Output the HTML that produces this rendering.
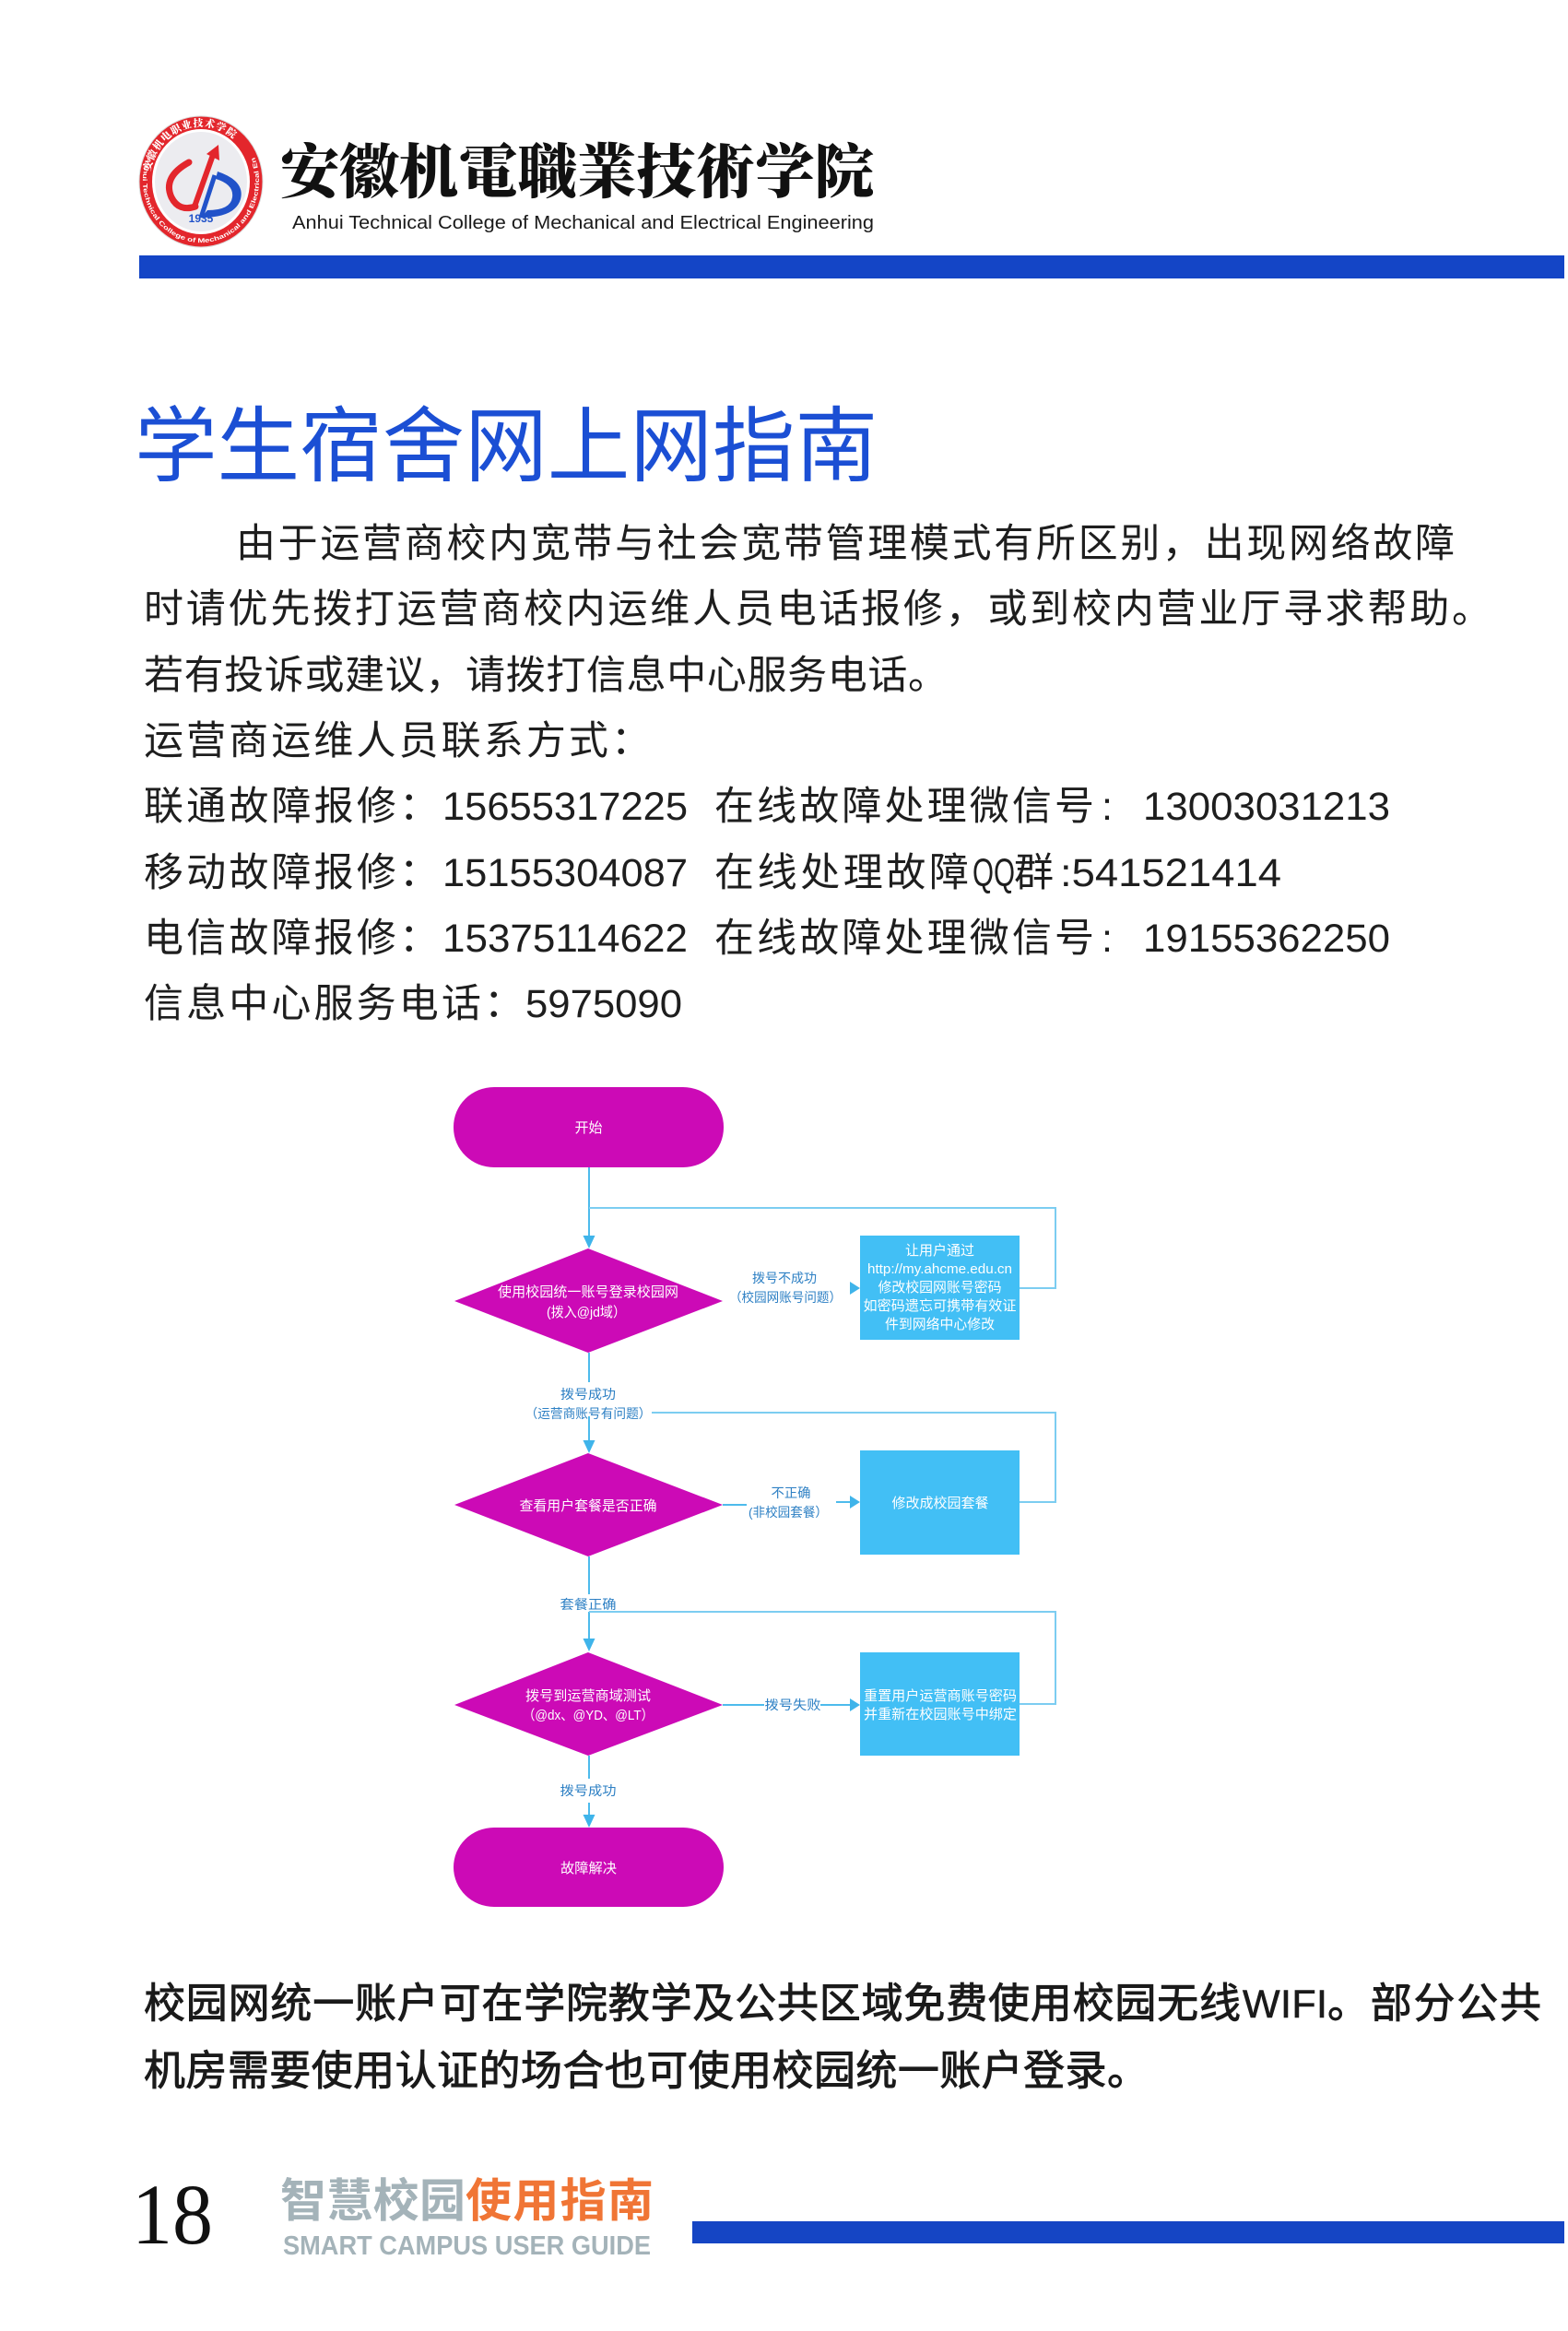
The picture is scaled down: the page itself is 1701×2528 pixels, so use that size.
<!DOCTYPE html>
<html><head><meta charset="utf-8"><style>
html,body{margin:0;padding:0;background:#fff;}
svg{display:block;}
.p{font-family:"Liberation Sans","Noto Sans CJK SC",sans-serif;font-size:43px;fill:#1e1e1e;}
.d{font-family:"Liberation Sans Narrow","Liberation Sans",sans-serif;font-size:43px;fill:#1e1e1e;}
.fw{font-family:"Liberation Sans","Noto Sans CJK SC",sans-serif;font-size:15px;fill:#fff;text-anchor:middle;}
.lb{font-family:"Liberation Sans","Noto Sans CJK SC",sans-serif;font-size:14px;fill:#2e80c4;text-anchor:middle;}
.ln{stroke:#4dbbec;stroke-width:2;fill:none;}
.lp{stroke:#7ccdf1;stroke-width:2;fill:none;}
.bp{font-family:"Liberation Sans","Noto Sans CJK SC",sans-serif;font-size:45px;fill:#1a1a1a;stroke:#1a1a1a;stroke-width:0.9;}
</style></head><body>
<svg width="1701" height="2528" viewBox="0 0 1701 2528" xmlns="http://www.w3.org/2000/svg">
<rect x="0" y="0" width="1701" height="2528" fill="#fff"/>

<!-- ===== Logo ===== -->
<defs>
<path id="engArc" d="M 160 170 A 63 67 0 1 0 276 170"/>
<path id="cnArc" d="M 163 186 A 56 60 0 0 1 273 186"/>
</defs>
<ellipse cx="218" cy="197" rx="67" ry="71" fill="#e3262c" stroke="#d9d9d9" stroke-width="1"/>
<ellipse cx="218" cy="197" rx="53" ry="57" fill="#ffffff"/>
<ellipse cx="218" cy="197" rx="50" ry="54" fill="#ececf0"/>
<text font-family="'Noto Serif CJK SC',serif" font-weight="900" font-size="11" fill="#fff"><textPath href="#cnArc" textLength="118" lengthAdjust="spacing">安徽机电职业技术学院</textPath></text>
<text font-family="'Liberation Sans',sans-serif" font-weight="bold" font-size="6.8" fill="#fff"><textPath href="#engArc" textLength="300" lengthAdjust="spacingAndGlyphs">Anhui Technical College of Mechanical and Electrical Engineering</textPath></text>
<path d="M205 176 Q176 192 186 214 Q194 230 212 224" stroke="#e3262c" stroke-width="7" fill="none" stroke-linecap="round"/>
<path d="M211 224 L231 168" stroke="#e3262c" stroke-width="6" fill="none"/>
<polygon points="237,157 238,174 224,167" fill="#e3262c"/>
<path d="M236 186 Q266 196 261 216 Q255 236 218 236 L225 228 Q250 228 252 214 Q254 200 234 194 Z" fill="#2152c9"/>
<path d="M218 236 L233 190" stroke="#2152c9" stroke-width="5" fill="none"/>
<text x="218" y="241" font-family="'Liberation Sans',sans-serif" font-weight="bold" font-size="12" fill="#2152c9" text-anchor="middle">1935</text>

<!-- ===== Header text ===== -->
<text x="304" y="209" font-family="'Noto Serif CJK SC','Noto Sans CJK SC',serif" font-weight="900" font-size="64" fill="#111" textLength="644" lengthAdjust="spacingAndGlyphs">安徽机電職業技術学院</text>
<text x="317" y="248" font-family="'Liberation Sans',sans-serif" font-size="20" fill="#1a1a1a" textLength="631" lengthAdjust="spacingAndGlyphs">Anhui Technical College of Mechanical and Electrical Engineering</text>
<rect x="151" y="277" width="1546" height="25" fill="#1445c6"/>

<!-- ===== Title ===== -->
<text x="146" y="515" font-family="'Liberation Sans','Noto Sans CJK SC',sans-serif" font-size="89" fill="#1b4fd4" textLength="806" lengthAdjust="spacingAndGlyphs">学生宿舍网上网指南</text>

<!-- ===== Paragraph ===== -->
<text class="p" x="256" y="604" textLength="1322" lengthAdjust="spacing">由于运营商校内宽带与社会宽带管理模式有所区别，出现网络故障</text>
<text class="p" x="156" y="675" textLength="1462" lengthAdjust="spacing">时请优先拨打运营商校内运维人员电话报修，或到校内营业厅寻求帮助。</text>
<text class="p" x="156" y="747" textLength="872" lengthAdjust="spacing">若有投诉或建议，请拨打信息中心服务电话。</text>
<text class="p" x="156" y="818" textLength="550" lengthAdjust="spacing">运营商运维人员联系方式：</text>

<text class="p" x="156" y="889" textLength="320" lengthAdjust="spacing">联通故障报修：</text>
<text class="d" x="480" y="889" textLength="266" lengthAdjust="spacingAndGlyphs">15655317225</text>
<text class="p" x="775" y="889" textLength="412" lengthAdjust="spacing">在线故障处理微信号</text>
<text class="d" x="1195" y="889">:</text>
<text class="d" x="1240" y="889" textLength="268" lengthAdjust="spacingAndGlyphs">13003031213</text>

<text class="p" x="156" y="961" textLength="320" lengthAdjust="spacing">移动故障报修：</text>
<text class="d" x="480" y="961" textLength="266" lengthAdjust="spacingAndGlyphs">15155304087</text>
<text class="p" x="775" y="961" textLength="276" lengthAdjust="spacing">在线处理故障</text>
<text class="d" x="1055" y="961" textLength="46" lengthAdjust="spacingAndGlyphs">QQ</text>
<text class="p" x="1100" y="961">群</text>
<text class="d" x="1150" y="961" textLength="240" lengthAdjust="spacingAndGlyphs">:541521414</text>

<text class="p" x="156" y="1032" textLength="320" lengthAdjust="spacing">电信故障报修：</text>
<text class="d" x="480" y="1032" textLength="266" lengthAdjust="spacingAndGlyphs">15375114622</text>
<text class="p" x="775" y="1032" textLength="412" lengthAdjust="spacing">在线故障处理微信号</text>
<text class="d" x="1195" y="1032">:</text>
<text class="d" x="1240" y="1032" textLength="268" lengthAdjust="spacingAndGlyphs">19155362250</text>

<text class="p" x="156" y="1103" textLength="412" lengthAdjust="spacing">信息中心服务电话：</text>
<text class="d" x="570" y="1103" textLength="170" lengthAdjust="spacingAndGlyphs">5975090</text>

<!-- ===== Flowchart ===== -->
<line class="ln" x1="639" y1="1266" x2="639" y2="1341"/>
<polygon points="632.5,1340 645.5,1340 639,1354" fill="#3fb4ea"/>
<polyline class="lp" points="1106,1397 1145,1397 1145,1310 639,1310"/>

<line class="ln" x1="639" y1="1467" x2="639" y2="1499"/>
<line class="ln" x1="639" y1="1536" x2="639" y2="1563"/>
<polygon points="632.5,1562 645.5,1562 639,1576" fill="#3fb4ea"/>
<polyline class="lp" points="1106,1629 1145,1629 1145,1532 707,1532"/>

<line class="ln" x1="784" y1="1632" x2="810" y2="1632"/>
<line class="ln" x1="907" y1="1629" x2="923" y2="1629"/>

<line class="ln" x1="639" y1="1688" x2="639" y2="1729"/>
<line class="ln" x1="639" y1="1748" x2="639" y2="1778"/>
<polygon points="632.5,1777 645.5,1777 639,1791" fill="#3fb4ea"/>
<polyline class="lp" points="1106,1848 1145,1848 1145,1748 639,1748"/>

<line class="ln" x1="784" y1="1849" x2="829" y2="1849"/>
<line class="ln" x1="890" y1="1849" x2="923" y2="1849"/>

<line class="ln" x1="639" y1="1904" x2="639" y2="1929"/>
<line class="ln" x1="639" y1="1955" x2="639" y2="1969"/>
<polygon points="632.5,1968 645.5,1968 639,1982" fill="#3fb4ea"/>

<polygon points="922,1390 922,1404 933,1397" fill="#3fb4ea"/>
<polygon points="922,1622 922,1636 933,1629" fill="#3fb4ea"/>
<polygon points="922,1842 922,1856 933,1849" fill="#3fb4ea"/>

<rect x="492" y="1179" width="293" height="87" rx="44" ry="43" fill="#cc0ab6"/>
<text class="fw" x="638.5" y="1228">开始</text>

<polygon points="638,1354 784,1411 638,1467 493,1411" fill="#cc0ab6"/>
<text class="fw" x="638" y="1406" textLength="196" lengthAdjust="spacingAndGlyphs">使用校园统一账号登录校园网</text>
<text class="fw" x="636" y="1428" textLength="86" lengthAdjust="spacingAndGlyphs">(拨入@jd域）</text>

<text class="lb" x="851" y="1391" textLength="70" lengthAdjust="spacingAndGlyphs">拨号不成功</text>
<text class="lb" x="852" y="1412" textLength="122" lengthAdjust="spacingAndGlyphs">（校园网账号问题）</text>

<rect x="933" y="1340" width="173" height="113" fill="#42bff5"/>
<text class="fw" x="1019.5" y="1361" textLength="75" lengthAdjust="spacingAndGlyphs">让用户通过</text>
<text class="fw" x="1019.5" y="1381" textLength="157" lengthAdjust="spacingAndGlyphs">http://my.ahcme.edu.cn</text>
<text class="fw" x="1019.5" y="1401" textLength="134" lengthAdjust="spacingAndGlyphs">修改校园网账号密码</text>
<text class="fw" x="1019.5" y="1421" textLength="166" lengthAdjust="spacingAndGlyphs">如密码遗忘可携带有效证</text>
<text class="fw" x="1019.5" y="1441" textLength="119" lengthAdjust="spacingAndGlyphs">件到网络中心修改</text>

<text class="lb" x="638" y="1517" textLength="60" lengthAdjust="spacingAndGlyphs">拨号成功</text>
<text class="lb" x="638" y="1538" textLength="137" lengthAdjust="spacingAndGlyphs">（运营商账号有问题）</text>

<polygon points="638,1576 784,1632 638,1688 493,1632" fill="#cc0ab6"/>
<text class="fw" x="638" y="1638" textLength="149" lengthAdjust="spacingAndGlyphs">查看用户套餐是否正确</text>

<text class="lb" x="858" y="1624" textLength="43" lengthAdjust="spacingAndGlyphs">不正确</text>
<text class="lb" x="855" y="1645" textLength="86" lengthAdjust="spacingAndGlyphs">(非校园套餐）</text>

<rect x="933" y="1573" width="173" height="113" fill="#42bff5"/>
<text class="fw" x="1020" y="1635" textLength="105" lengthAdjust="spacingAndGlyphs">修改成校园套餐</text>

<text class="lb" x="638" y="1745" textLength="61" lengthAdjust="spacingAndGlyphs">套餐正确</text>

<polygon points="638,1792 784,1849 638,1904 493,1849" fill="#cc0ab6"/>
<text class="fw" x="638" y="1844" textLength="136" lengthAdjust="spacingAndGlyphs">拨号到运营商域测试</text>
<text class="fw" x="638" y="1865" textLength="142" lengthAdjust="spacingAndGlyphs">（@dx、@YD、@LT）</text>

<text class="lb" x="860" y="1854" textLength="61" lengthAdjust="spacingAndGlyphs">拨号失败</text>

<rect x="933" y="1792" width="173" height="112" fill="#42bff5"/>
<text class="fw" x="1020" y="1844" textLength="166" lengthAdjust="spacingAndGlyphs">重置用户运营商账号密码</text>
<text class="fw" x="1020" y="1864" textLength="166" lengthAdjust="spacingAndGlyphs">并重新在校园账号中绑定</text>

<text class="lb" x="638" y="1947" textLength="61" lengthAdjust="spacingAndGlyphs">拨号成功</text>

<rect x="492" y="1982" width="293" height="86" rx="44" ry="43" fill="#cc0ab6"/>
<text class="fw" x="638.5" y="2031" textLength="61" lengthAdjust="spacingAndGlyphs">故障解决</text>

<!-- ===== Bottom paragraph ===== -->
<text class="bp" x="156" y="2188" textLength="1190" lengthAdjust="spacing">校园网统一账户可在学院教学及公共区域免费使用校园无线</text>
<text x="1348" y="2188" font-family="'Liberation Sans Narrow','Liberation Sans',sans-serif" font-size="43" fill="#1a1a1a" stroke="#1a1a1a" stroke-width="0.6" textLength="92" lengthAdjust="spacing">WIFI</text>
<text class="bp" x="1440" y="2188" textLength="232" lengthAdjust="spacing">。部分公共</text>
<text class="bp" x="156" y="2261" textLength="1090" lengthAdjust="spacing">机房需要使用认证的场合也可使用校园统一账户登录。</text>

<!-- ===== Footer ===== -->
<text x="143" y="2433" font-family="'Liberation Serif',serif" font-size="93" fill="#111" textLength="88" lengthAdjust="spacingAndGlyphs">18</text>
<text x="304" y="2404" font-family="'Liberation Sans','Noto Sans CJK SC',sans-serif" font-weight="bold" font-size="50" fill="#a4b3b9" textLength="201" lengthAdjust="spacing">智慧校园</text>
<text x="505" y="2404" font-family="'Liberation Sans','Noto Sans CJK SC',sans-serif" font-weight="bold" font-size="50" fill="#f07535" textLength="204" lengthAdjust="spacing">使用指南</text>
<text x="307" y="2445" font-family="'Liberation Sans Narrow','Liberation Sans',sans-serif" font-weight="bold" font-size="29" fill="#a4b3b9" textLength="399" lengthAdjust="spacingAndGlyphs">SMART CAMPUS USER GUIDE</text>
<rect x="751" y="2409" width="946" height="24" fill="#1545c4"/>
</svg>
</body></html>
